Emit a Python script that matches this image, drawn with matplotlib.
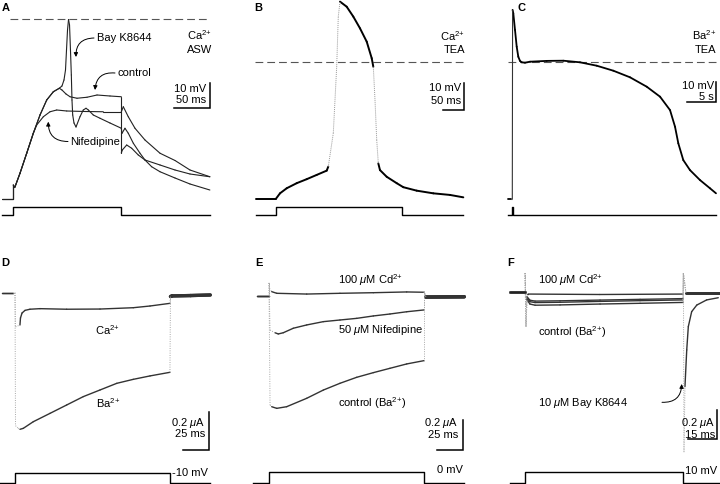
import matplotlib.pyplot as plt
import numpy as np
from matplotlib.collections import LineCollection

plt.rcParams["font.family"] = ["Liberation Sans", "DejaVu Sans"]
plt.rcParams["mathtext.fontset"] = "custom"
plt.rcParams["mathtext.rm"] = "Liberation Sans"
plt.rcParams["mathtext.it"] = "Liberation Sans:italic"
plt.rcParams["mathtext.bf"] = "Liberation Sans:bold"

W, H = 720, 484

# ---- A: Ca2+ ASW, current clamp (ms, mV) ----
a_stim_t = [-16, 0, 0, 150, 150, 273]
a_stim_lvl = [0, 0, 1, 1, 0, 0]
a_dash_t = [-5, 273]
a_rise_t = [-16, 0, 0, 1.7, 2.4, 9.3, 18.6, 27.8]
a_rise_v = [-72, -72, -66.4, -67.4, -67.1, -61.7, -53.7, -45.7]
a_ctrl_t = [37.1, 46.4, 55.6, 63.9, 67.6, 73.2, 78.8, 88.5, 102.4, 116.3, 134.3, 150,
            150, 151.4, 157.5, 164.4, 173.6, 182.9, 203.8, 224.6, 245.4, 273]
a_ctrl_v = [-38.4, -32.4, -29.1, -27.7, -28.4, -30.0, -31.1, -31.7, -31.3, -30.4, -30.8, -31.1,
            -53.6, -52.4, -50.4, -51.7, -54.4, -56.4, -58.4, -60.4, -62.0, -63.1]
a_bay_t = [37.1, 46.4, 55.6, 63.9, 67.6, 70.4, 72.5, 73.9, 75.3, 76.7, 78.1, 79.4, 80.6,
           81.5, 82.5, 84.3, 87.1, 92.6, 97.2, 101.0, 104.2, 111.1, 120.4, 134.3, 150,
           151, 155.1, 159.7, 166.7, 176, 182.9, 192.2, 203.8, 224.6, 245.4, 273]
a_bay_v = [-38.4, -32.4, -29.1, -27.7, -26.8, -24.4, -20.4, -12.4, -4.4, -0.2, -2.4, -12.4, -22.4,
           -32.4, -38.4, -41.6, -43.2, -39.1, -36.4, -35.7, -36.4, -38.4, -39.7, -41.6, -43.7,
           -45.7, -43.7, -45.7, -49.7, -53.7, -56.4, -59.1, -61.1, -63.6, -66.0, -68.4]
a_nif_t = [32.5, 41.7, 51.0, 60.3, 74.2, 100, 125, 150, 152.8, 159.7, 169, 182.9, 203.8, 224.6, 245.4, 273]
a_nif_v = [-42.4, -39.1, -37.1, -36.4, -36.8, -37.0, -37.1, -37.1, -35.1, -39.1, -43.7, -48.4, -53.7,
           -56.6, -60.4, -63.1]

# ---- B: Ca2+ TEA (ms, mV) ----
b_stim_t = [-47.6, 0, 0, 300, 300, 446]
b_stim_lvl = [0, 0, 1, 1, 0, 0]
b_dash_t = [-50, 454]
b_t = [-47.6, 0, 9.5, 25.5, 49.3, 73.1, 96.9, 120.7, 124.5, 136.4, 144.5, 148.3, 152.4,
       168.3, 184.0, 200, 216, 227.9, 231.7, 235.7, 239.8, 243.6, 247.6, 263.6, 287.4,
       303.1, 335, 374.5, 414.3, 446]
b_v = [-51.3, -51.3, -49.3, -47.4, -45.5, -44.0, -42.4, -40.8, -39.3, -26.8, -1.9, 16.9, 22.5,
       20.6, 16.9, 12.5, 7.5, 1.3, -1.9, -14.3, -29.3, -38.1, -40.6, -43.1, -45.5,
       -47.0, -48.3, -49.3, -49.9, -50.8]
b_fast = [(124.5, 152.4), (231.7, 243.6)]

# ---- C: Ba2+ TEA (s, mV) ----
c_stim_t = [-0.7, 0, 0, 0.15, 0.15, 34.7]
c_stim_lvl = [0, 0, 1, 1, 0, 0]
c_dash_t = [-0.7, 34.7]
c_t = [-0.68, -0.3, 0, 0.05, 0.17, 0.46, 0.75, 1.02, 1.31, 1.6, 2.16, 3.02, 5.86, 8.69, 11.53,
       14.38, 17.21, 20.05, 22.9, 25.17, 26.87, 27.72, 28.28, 29.13, 30.27, 31.98, 33.68, 34.7]
c_v = [-68.8, -68.8, -68.8, 25.9, 24.2, 15.9, 7.5, 2.5, 0.4, -0.3, -0.5, 0, 0.4, 0.5, -0.3,
       -2.0, -4.5, -7.8, -12.5, -17.5, -24.2, -32.5, -40.8, -49.2, -54.2, -59.2, -63.3, -65.8]
c_fast = [(-0.35, 0.05)]

# ---- D: currents at -10 mV (ms, uA) ----
d_stim_t = [-14.5, 0, 0, 150, 150, 189]
d_stim_lvl = [0, 0, 1, 1, 0, 0]
d_ca_t = [-13, -1.6, 0, 0.5, 4.8, 5.3, 6.8, 9.7, 14.5, 24.2, 50, 82.3, 114.5, 130.7, 150,
          150.5, 152, 170, 189]
d_ca_i = [0, 0, 0, -0.18, -0.17, -0.133, -0.107, -0.093, -0.087, -0.084, -0.087, -0.086, -0.079,
          -0.070, -0.056, -0.02, -0.017, -0.015, -0.012]
d_ba_t = [-13, -1.6, 0, 0.5, 3.2, 4.8, 8.0, 17.7, 33.9, 50, 66.1, 82.3, 98.5, 114.5, 130.7, 150,
          150.5, 152, 170, 189]
d_ba_i = [0, 0, 0, -0.70, -0.714, -0.719, -0.714, -0.679, -0.635, -0.591, -0.547, -0.512, -0.477,
          -0.456, -0.438, -0.419, -0.02, -0.017, -0.015, -0.012]
d_fast = [(-1.6, 4.8), (149.9, 150.6)]

# ---- E: currents at 0 mV (ms, uA) ----
e_stim_t = [-15.2, 0, 0, 150, 150, 189]
e_stim_lvl = [0, 0, 1, 1, 0, 0]
e_cd_t = [-12, 0, 0, 0.5, 2.6, 7.5, 36.5, 68.7, 101, 133.3, 150, 150, 152, 189]
e_cd_i = [0, 0, 0.087, 0.051, 0.029, 0.018, 0.013, 0.018, 0.022, 0.027, 0.025, 0.03, -0.007, -0.005]
e_nif_t = [-12, 0, 0, 1.0, 5.8, 9.0, 13.8, 23.5, 36.5, 52.6, 68.7, 84.9, 101, 117.1, 133.3, 150,
           150, 152, 189]
e_nif_i = [0, 0, 0.087, -0.227, -0.245, -0.253, -0.245, -0.215, -0.193, -0.171, -0.160, -0.149,
           -0.133, -0.120, -0.105, -0.093, 0.03, -0.007, -0.005]
e_ctrl_t = [-12, 0, 0, 1.0, 2.6, 7.5, 17.1, 36.5, 52.6, 68.7, 84.9, 101, 117.1, 133.3, 150,
            150, 152, 189]
e_ctrl_i = [0, 0, 0.087, -0.727, -0.738, -0.749, -0.738, -0.682, -0.627, -0.582, -0.542, -0.511,
            -0.482, -0.453, -0.431, 0.03, -0.007, -0.005]

# ---- F: currents at 10 mV (ms, uA) ----
f_stim_t = [-7.6, 0, 0, 80, 80, 99]
f_stim_lvl = [0, 0, 1, 1, 0, 0]
f_cd_t = [-7.6, 0, 0, 0.5, 1.0, 1.7, 38, 80.2, 80.4, 81.7, 99]
f_cd_i = [0, 0, 0.13, -0.10, -0.012, -0.012, -0.015, -0.012, 0.13, -0.003, -0.003]
f_ctrl_t = [-7.6, 0, 0, 0.5, 1.0, 2.5, 5.1, 17.8, 38.1, 58.4, 80.2, 80.4, 81.7, 99]
f_ctrl_i = [0, 0, 0.13, -0.234, -0.03, -0.054, -0.060, -0.058, -0.053, -0.048, -0.043, 0.13, -0.005, -0.005]
f_wash_i = [0, 0, 0.13, -0.234, -0.04, -0.064, -0.070, -0.068, -0.062, -0.057, -0.052, 0.13, -0.005, -0.005]
f_bay_t = [-7.6, 0, 0, 0.5, 1.0, 2.5, 5.1, 17.8, 38.1, 58.4, 80.2, 80.4, 80.7, 81.2, 82.1, 82.9,
           84.6, 87.2, 92.2, 98.1]
f_bay_i = [0, 0, 0.13, -0.234, -0.05, -0.080, -0.088, -0.086, -0.080, -0.075, -0.069, 0.13, -1.09,
           -0.643, -0.393, -0.234, -0.132, -0.087, -0.052, -0.037]
f_fast = [(-0.1, 1.0), (80.1, 81.2)]

fig = plt.figure(figsize=(W / 100, H / 100), dpi=100)


def panel(left, top, width, height, x0, sx, y0, sy):
    # axes placed in pixels; (x0, y0) is the pixel of data zero, sx/sy pixels per unit
    ax = fig.add_axes([left / W, 1 - (top + height) / H, width / W, height / H])
    ax.set_xlim((left - x0) / sx, (left + width - x0) / sx)
    ax.set_ylim((y0 - top - height) / sy, (y0 - top) / sy)
    ax.axis("off")
    return ax


def draw_trace(ax, t, v, fast=(), lw=1.0, color="#222222", fast_kw=None, post=None, post_lw=None):
    t = np.asarray(t, float)
    v = np.asarray(v, float)
    pts = np.column_stack([t, v])
    segs = np.stack([pts[:-1], pts[1:]], axis=1)
    mid = (t[:-1] + t[1:]) / 2
    quick = np.zeros(len(mid), bool)
    for a, b in fast:
        quick |= (mid > a) & (mid < b)
    widths = np.full(len(mid), lw)
    if post is not None:
        widths[mid > post] = post_lw
    ax.add_collection(LineCollection(segs[~quick], colors=color, linewidths=widths[~quick],
                                     capstyle="round", clip_on=False))
    if quick.any():
        kw = fast_kw or dict(colors="#a8a8a8", linewidths=0.7, linestyles=(0, (1, 1.4)))
        ax.add_collection(LineCollection(segs[quick], clip_on=False, **kw))


def scalebar(ax, m, corner, dx, dy):
    x0, sx, y0, sy = m
    cx = (corner[0] - x0) / sx
    cy = (y0 - corner[1]) / sy
    ax.plot([cx - dx, cx, cx], [cy, cy, cy + dy], color="k", lw=1.1,
            solid_joinstyle="miter", clip_on=False)


def label(x, y, s, ha="left", size=8, **kw):
    fig.text(x / W, 1 - y / H, s, ha=ha, va="center", fontsize=size, **kw)


def arrow(start, tip, rad):
    fig.add_artist(plt.Annotation("", xy=(tip[0], H - tip[1]), xytext=(start[0], H - start[1]),
                                  xycoords="figure pixels", textcoords="figure pixels",
                                  arrowprops=dict(arrowstyle="-|>", connectionstyle=f"arc3,rad={rad}",
                                                  lw=0.7, color="k", mutation_scale=6,
                                                  shrinkA=0, shrinkB=0)))


dash_kw = dict(color="#555555", lw=0.8, linestyle=(0, (7, 3.6)), clip_on=False)
stim_kw = dict(color="k", lw=1.0, clip_on=False)
SUP = "$^{2{+}}$"

# ---- panel A ----
mA = (13.3, 0.72, 19, 2.5)
axA = panel(0, 0, 220, 220, *mA)
sA = panel(0, 0, 220, 220, 13.3, 0.72, 215, 8.3)
axA.plot(a_dash_t, [0, 0], **dash_kw)
draw_trace(axA, a_rise_t + a_nif_t, a_rise_v + a_nif_v, lw=0.8)
draw_trace(axA, a_rise_t + a_ctrl_t, a_rise_v + a_ctrl_v, lw=0.8)
draw_trace(axA, a_rise_t + a_bay_t, a_rise_v + a_bay_v, lw=0.8)
sA.plot(a_stim_t, a_stim_lvl, **stim_kw)
scalebar(axA, mA, (210, 108.3), 50, 10)

# ---- panel B ----
mB = (276, 0.42, 61.7, 2.67)
axB = panel(240, 0, 235, 220, *mB)
sB = panel(240, 0, 235, 220, 276, 0.42, 215, 8.3)
axB.plot(b_dash_t, [0, 0], **dash_kw)
draw_trace(axB, b_t, b_v, fast=b_fast, lw=1.4, color="k",
           fast_kw=dict(colors="#9a9a9a", linewidths=0.7, linestyles=(0, (1, 1))))
sB.plot(b_stim_t, b_stim_lvl, **stim_kw)
scalebar(axB, mB, (464, 110), 50, 10)

# ---- panel C ----
mC = (512.3, 5.87, 61.7, 2.0)
axC = panel(485, 0, 235, 220, *mC)
sC = panel(485, 0, 235, 220, 512.3, 5.87, 215, 8.3)
axC.plot(c_dash_t, [0, 0], **dash_kw)
draw_trace(axC, c_t, c_v, fast=c_fast, lw=1.3, color="k",
           fast_kw=dict(colors="#333333", linewidths=0.8))
sC.plot(c_stim_t, c_stim_lvl, **stim_kw)
scalebar(axC, mC, (716, 102), 5, 10)

# ---- panel D ----
mD = (15, 1.033, 292.7, 190)
axD = panel(0, 240, 220, 244, *mD)
sD = panel(0, 240, 220, 244, 15, 1.033, 482.7, 9.4)
draw_trace(axD, d_ca_t, d_ca_i, fast=d_fast, color="#333333", post=150.6, post_lw=2.4)
draw_trace(axD, d_ba_t, d_ba_i, fast=d_fast, color="#333333", post=150.6, post_lw=2.4)
sD.plot(d_stim_t, d_stim_lvl, **stim_kw)
scalebar(axD, mD, (209.3, 450), 25, 0.2)

# ---- panel E ----
mE = (269, 1.033, 296, 150)
axE = panel(240, 240, 235, 244, *mE)
sE = panel(240, 240, 235, 244, 269, 1.033, 482.7, 11)
draw_trace(axE, e_cd_t, e_cd_i, fast=[(-0.1, 2.6), (149.9, 152)], color="#333333",
           post=152, post_lw=2.4)
draw_trace(axE, e_nif_t, e_nif_i, fast=[(-0.1, 5.8), (149.9, 152)], color="#333333",
           post=152, post_lw=2.4)
draw_trace(axE, e_ctrl_t, e_ctrl_i, fast=[(-0.1, 2.6), (149.9, 152)], color="#333333",
           post=152, post_lw=2.4)
sE.plot(e_stim_t, e_stim_lvl, **stim_kw)
scalebar(axE, mE, (462.7, 450), 25, 0.2)

# ---- panel F ----
mF = (525, 1.97, 292.3, 146.7)
axF = panel(485, 240, 235, 244, *mF)
sF = panel(485, 240, 235, 244, 525, 1.97, 482.7, 11)
f_step_fast = [(-0.1, 1.0), (80.1, 81.7)]
draw_trace(axF, f_cd_t, f_cd_i, fast=f_step_fast, color="#333333", post=81.7, post_lw=1.8)
draw_trace(axF, f_ctrl_t, f_ctrl_i, fast=f_step_fast, color="#333333", post=81.7, post_lw=1.8)
draw_trace(axF, f_ctrl_t, f_wash_i, fast=f_step_fast, color="#333333", post=81.7, post_lw=1.8)
draw_trace(axF, f_bay_t, f_bay_i, fast=f_fast, color="#333333")
axF.plot(f_stim_t[:2], [0, 0], color="#222222", lw=1.8, clip_on=False)
sF.plot(f_stim_t, f_stim_lvl, **stim_kw)
scalebar(axF, mF, (717.3, 439.3), 15, 0.2)

# ---- text ----
for x, y, s in [(2, 8, "A"), (254, 8, "B"), (517, 8, "C"),
                (1, 263, "D"), (255, 263, "E"), (507, 263, "F")]:
    label(x, y, s, weight="bold")

label(212, 35, "Ca" + SUP, ha="right")
label(212, 50, "ASW", ha="right")
label(465, 36, "Ca" + SUP, ha="right")
label(465, 50, "TEA", ha="right")
label(716, 35, "Ba" + SUP, ha="right")
label(716, 50, "TEA", ha="right")

label(206, 89, "10 mV", ha="right")
label(206, 100, "50 ms", ha="right")
label(461, 88, "10 mV", ha="right")
label(461, 101, "50 ms", ha="right")
label(714, 86, "10 mV", ha="right")
label(714, 96.5, "5 s", ha="right")

label(97, 38, "Bay K8644")
label(117, 72.7, "control")
label(70, 141.7, "Nifedipine")
arrow((94, 38), (76, 57), 0.5)
arrow((115, 73), (95, 90), 0.5)
arrow((68, 141.5), (48.3, 121.7), -0.5)

label(107, 330, "Ca" + SUP, ha="center")
label(108, 403, "Ba" + SUP, ha="center")
label(205, 422.7, r"0.2 $\mu$A", ha="right")
label(205, 434, "25 ms", ha="right")
label(208, 473, "-10 mV", ha="right")

label(338, 280, r"100 $\mu$M Cd" + SUP)
label(338, 330, r"50 $\mu$M Nifedipine")
label(338, 403, "control (Ba" + SUP + ")")
label(458.3, 422.7, r"0.2 $\mu$A", ha="right")
label(458.3, 434.5, "25 ms", ha="right")
label(462.7, 470, "0 mV", ha="right")

label(538, 280, r"100 $\mu$M Cd" + SUP)
label(538, 331.7, "control (Ba" + SUP + ")")
label(538, 403.3, r"10 $\mu$M Bay K8644")
arrow((662, 402.3), (681.7, 384), 0.5)
label(715, 423.3, r"0.2 $\mu$A", ha="right")
label(715, 435, "15 ms", ha="right")
label(716.7, 470.7, "10 mV", ha="right")

fig.savefig("out.png", dpi=100)
